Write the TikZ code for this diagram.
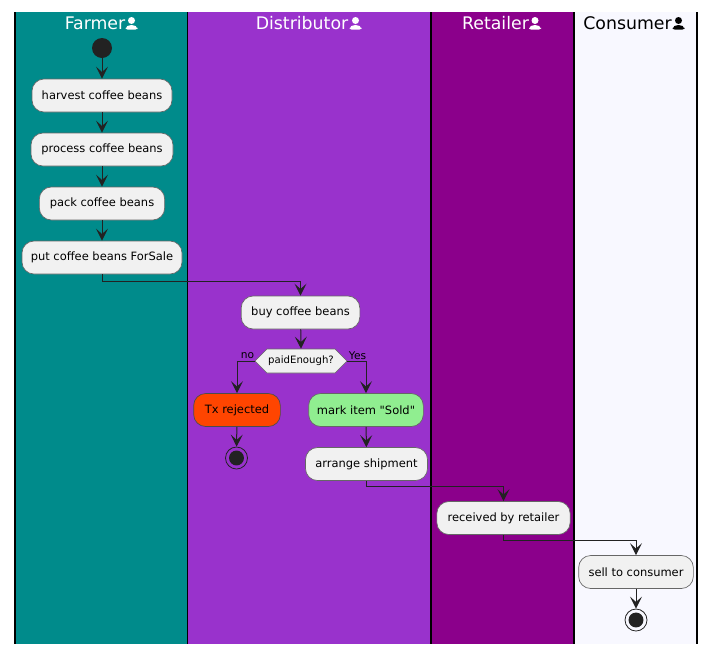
\documentclass[tikz,border=0pt]{standalone}
\usepackage{fontspec}
\setmainfont[Ligatures=TeXOff]{DejaVu Sans}
\usetikzlibrary{arrows.meta,shapes.symbols}
\definecolor{farmerlane}{HTML}{008B8B}
\definecolor{distlane}{HTML}{9932CC}
\definecolor{retaillane}{HTML}{8B008B}
\definecolor{consumerlane}{HTML}{F8F8FF}
\definecolor{inkdark}{HTML}{222222}
\definecolor{boxfill}{HTML}{F1F1F1}
\definecolor{rejectfill}{HTML}{FF4500}
\definecolor{soldfill}{HTML}{90EE90}
\tikzset{
  action/.style={draw=black!60, line width=0.5pt, fill=boxfill, rounded corners=9pt, minimum height=24.75pt, inner xsep=0pt, inner ysep=0pt, font=\fontsize{8.6}{10}\selectfont, text=black},
  flow/.style={draw=inkdark, line width=0.75pt, -{Stealth[length=9pt, width=9pt, inset=4pt]}},
  lanetitle/.style={font=\fontsize{13}{15}\selectfont, inner sep=0pt},
  guard/.style={font=\fontsize{8}{10}\selectfont, inner sep=0pt, text=black},
  startdot/.style={circle, fill=inkdark, minimum size=15pt, inner sep=0pt},
  stopdot/.style={circle, draw=inkdark, line width=0.6pt, fill=none, minimum size=16.5pt, inner sep=0pt, path picture={\fill[inkdark] (path picture bounding box.center) circle (5.6pt);}},
  personicon/.pic={
    \fill (0,-3) circle (3.5);
    \fill[rounded corners=1.5pt] (-6,6) -- (-6,3.5) -- (-2,1.5) -- (2,1.5) -- (6,3.5) -- (6,6) -- cycle;
  }
}
\begin{document}
\begin{tikzpicture}[x=0.75pt, y=-0.75pt]
    \useasboundingbox (0,0) rectangle (716,654);
    % lanes
    \fill[farmerlane] (15,12) rectangle (187.5,644);
    \fill[distlane] (187.5,12) rectangle (431,644);
    \fill[retaillane] (431,12) rectangle (574,644);
    \fill[consumerlane] (574,12) rectangle (697,644);
    \foreach \lanex in {15,187.5,431,574,697}
      \draw[black, line width=0.9pt] (\lanex,12) -- (\lanex,644);
    % lane titles
    \node[lanetitle, text=white] (farmertitle) at (95,23) {Farmer};
    \node[lanetitle, text=white] (disttitle) at (302,23) {Distributor};
    \node[lanetitle, text=white] (retailtitle) at (495.5,23) {Retailer};
    \node[lanetitle, text=black] (consumertitle) at (627.5,23) {Consumer};
    \pic[white] at (131.5,23.5) {personicon};
    \pic[white] at (355.5,23.5) {personicon};
    \pic[white] at (535,23.5) {personicon};
    \pic[black] at (678.5,23.5) {personicon};
    % actions
    \node[startdot] (start) at (102,48) {};
    \node[action, minimum width=105pt] (harvest) at (102,95.5) {harvest coffee beans};
    \node[action, minimum width=106.5pt] (process) at (102,149.5) {process coffee beans};
    \node[action, minimum width=94pt] (pack) at (102,203.5) {pack coffee beans};
    \node[action, minimum width=120pt] (forsale) at (102,257.5) {put coffee beans ForSale};
    \node[action, minimum width=89pt] (buy) at (300.5,312.5) {buy coffee beans};
    \node[signal, signal to=east and west, draw=black!60, line width=0.5pt, fill=boxfill, minimum width=69pt, minimum height=18pt, inner sep=0pt, font=\fontsize{7.6}{9}\selectfont] (paid) at (301,361) {paidEnough?};
    \node[action, fill=rejectfill, draw=black!70, minimum width=65pt] (rejected) at (237,410) {Tx rejected};
    \node[action, fill=soldfill, minimum width=86pt] (mark) at (366,410) {mark item "Sold"};
    \node[action, minimum width=91.5pt] (arrange) at (366.5,464) {arrange shipment};
    \node[action, minimum width=100pt] (received) at (503.5,518) {received by retailer};
    \node[action, minimum width=86pt] (sell) at (636,572) {sell to consumer};
    \node[stopdot] (stopa) at (236.5,458) {};
    \node[stopdot] (stopb) at (636,620) {};
    \node[guard] (guardno) at (247.5,356) {no};
    \node[guard] (guardyes) at (357.5,355.5) {Yes};
    % flows
    \draw[flow] (start) -- (harvest);
    \draw[flow] (harvest) -- (process);
    \draw[flow] (process) -- (pack);
    \draw[flow] (pack) -- (forsale);
    \draw[flow] (forsale.south) -- ++(0,7) -| (buy.north);
    \draw[flow] (buy) -- (paid.north);
    \draw[flow] (paid.west) -| (rejected.north);
    \draw[flow] (paid.east) -| (mark.north);
    \draw[flow] (rejected) -- (stopa);
    \draw[flow] (mark) -- (arrange);
    \draw[flow] (arrange.south) -- ++(0,6) -| (received.north);
    \draw[flow] (received.south) -- ++(0,6) -| (sell.north);
    \draw[flow] (sell) -- (stopb);
\end{tikzpicture}
\end{document}
